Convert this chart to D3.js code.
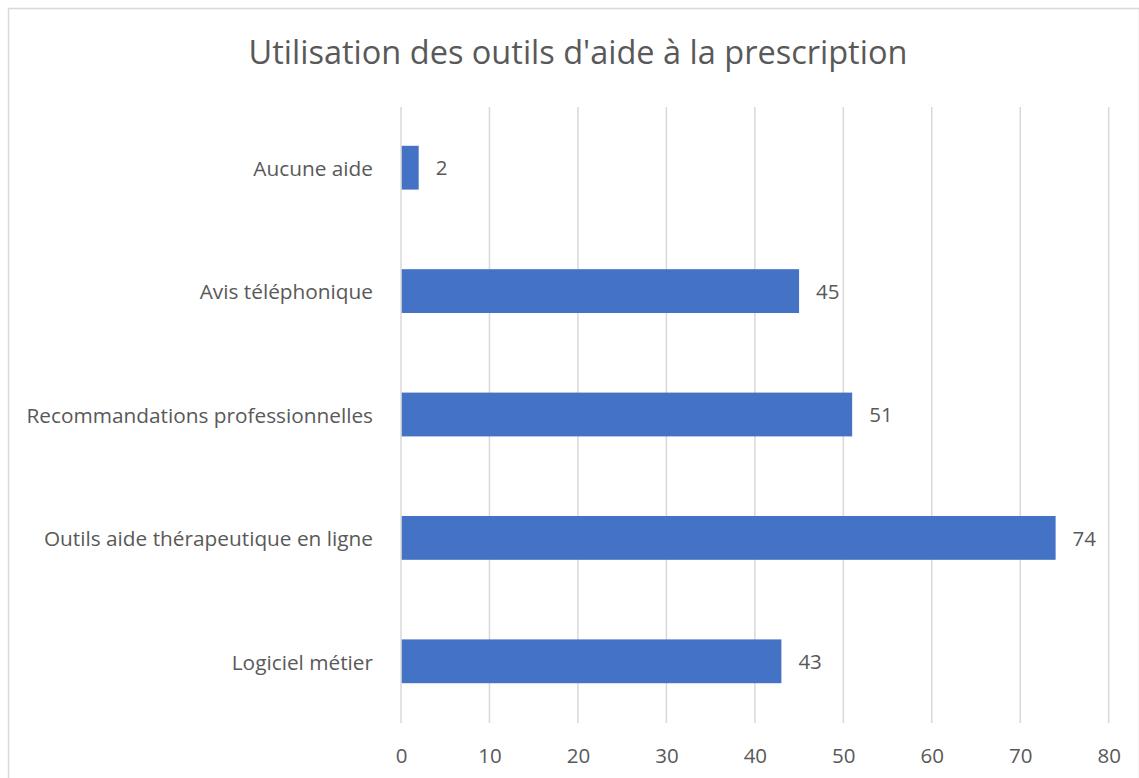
<!DOCTYPE html>
<html>
<head>
<meta charset="utf-8">
<script src="https://cdn.jsdelivr.net/npm/d3@7"></script>
<style>
  body { margin: 0; background: #fff; }
  text { font-family: "Open Sans", "Noto Sans", sans-serif; fill: #595959; }
</style>
</head>
<body>
<svg width="1139" height="778"></svg>
<script>
// data
const categories = ['Aucune aide', 'Avis téléphonique', 'Recommandations professionnelles',
  'Outils aide thérapeutique en ligne', 'Logiciel métier'];
const values = [2, 45, 51, 74, 43];
const xTicks = [0, 10, 20, 30, 40, 50, 60, 70, 80];
const title = "Utilisation des outils d'aide à la prescription";

let svg = d3.select('svg');

// chart frame
svg.append('rect')
  .attr('x', 8.5).attr('y', 8.5)
  .attr('width', 1131).attr('height', 790)
  .attr('fill', 'none')
  .attr('stroke', '#d9d9d9')
  .attr('stroke-width', 1.5);

svg.append('text')
  .attr('x', 578).attr('y', 64)
  .attr('text-anchor', 'middle')
  .attr('font-size', 32.5)
  .text(title);

let x = d3.scaleLinear().domain([0, 80]).range([401, 1108.7]);
let y = d3.scaleBand().domain(categories).range([106, 723]).paddingInner(0.645).paddingOuter(0.3225);

// gridlines
svg.append('g')
  .selectAll('line')
  .data(xTicks)
  .join('line')
  .attr('x1', d => x(d)).attr('x2', d => x(d))
  .attr('y1', 107).attr('y2', 723)
  .attr('stroke', '#d9d9d9')
  .attr('stroke-width', 1.5);

// x axis labels
let xAxis = d3.axisBottom(x).tickValues(xTicks).tickSize(0).tickPadding(0);
let gx = svg.append('g').attr('transform', 'translate(0,723)').call(xAxis);
gx.select('.domain').remove();
gx.selectAll('text')
  .attr('y', 40)
  .attr('dy', null)
  .attr('font-size', 20.5)
  .attr('font-family', '"Open Sans", sans-serif')
  .attr('fill', '#595959');

// y axis labels
let yAxis = d3.axisLeft(y).tickSize(0).tickPadding(28);
let gy = svg.append('g').attr('transform', 'translate(401,0)').call(yAxis);
gy.select('.domain').remove();
gy.selectAll('text')
  .attr('font-size', 20.8)
  .attr('dy', '0.4em')
  .attr('font-family', '"Open Sans", sans-serif')
  .attr('fill', '#595959');

// bars
svg.append('g')
  .selectAll('rect')
  .data(values)
  .join('rect')
  .attr('x', x(0) + 0.75)
  .attr('y', (d, i) => y(categories[i]))
  .attr('width', d => x(d) - x(0) - 0.75)
  .attr('height', y.bandwidth())
  .attr('fill', '#4472c4');

// value labels
svg.append('g')
  .selectAll('text')
  .data(values)
  .join('text')
  .attr('x', d => x(d) + 17)
  .attr('y', (d, i) => y(categories[i]) + y.bandwidth() / 2)
  .attr('dy', '0.38em')
  .attr('font-size', 20.5)
  .attr('fill', '#404040')
  .text(d => d);
</script>
</body>
</html>
